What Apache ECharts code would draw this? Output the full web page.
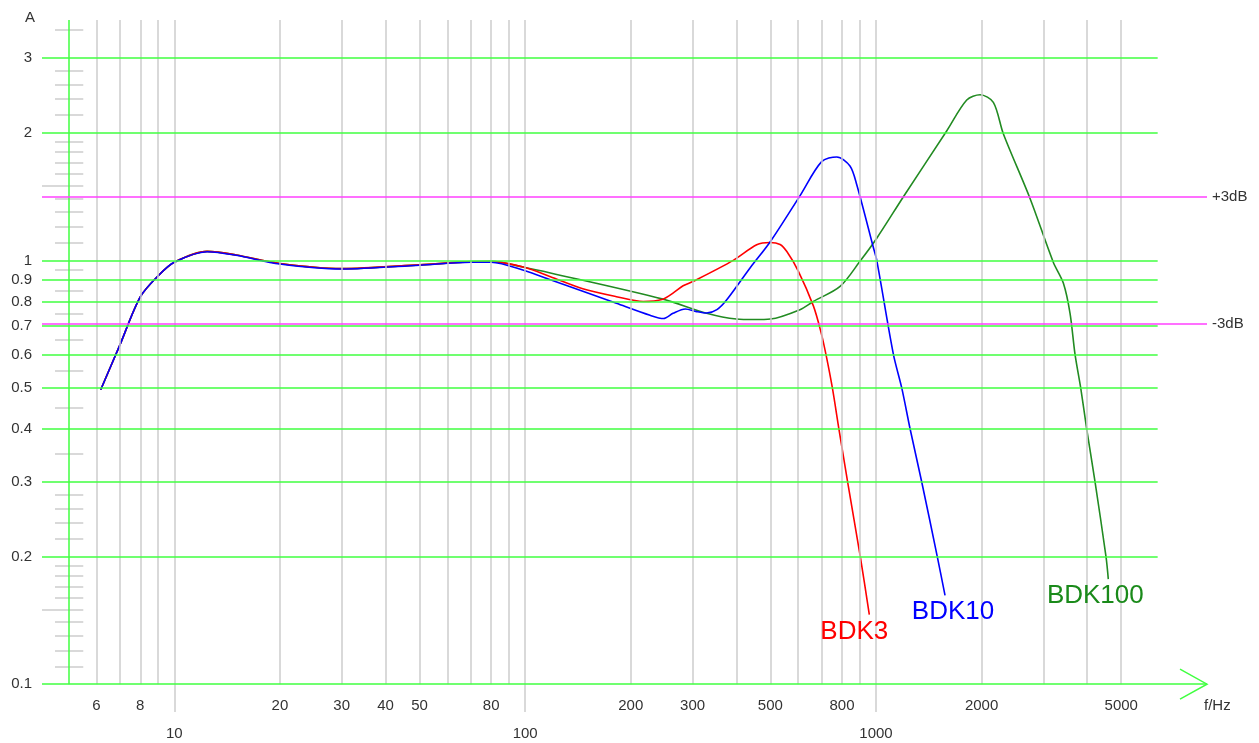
<!DOCTYPE html>
<html>
<head>
<meta charset="utf-8">
<title>BDK frequency response</title>
<script src="https://cdn.jsdelivr.net/npm/echarts@6/dist/echarts.min.js"></script>
<style>
  html, body { margin: 0; padding: 0; background: #fff; }
  #chart { width: 1259px; height: 743px; }
</style>
</head>
<body>
<div id="chart"></div>
<script>
  // axis extents, picked so the grid falls where the original draws it
  const X_MIN = 4.197;
  const X_MAX = 8778;
  const X_GRID_END = 6350;
  const Y_MIN = 0.08597;
  const Y_MAX = 3.691;
  const Y_AXIS_AT = 5;
  const TICK_FROM = 4.571;
  const TICK_TO = 5.503;

  // tick labels / grid positions
  const yGridValues = [0.1, 0.2, 0.3, 0.4, 0.5, 0.6, 0.7, 0.8, 0.9, 1, 2, 3];
  const yMinorTicks = [0.11, 0.12, 0.13, 0.14, 0.15, 0.16, 0.17, 0.18, 0.19, 0.22, 0.24, 0.26, 0.28,
    0.35, 0.45, 0.55, 0.65, 0.75, 0.85, 0.95, 1.1, 1.2, 1.3, 1.4, 1.5, 1.6, 1.7, 1.8, 1.9,
    2.2, 2.4, 2.6, 2.8, 3.5];
  const yLongTicks = [0.15, 1.5];
  const xGridValues = [6, 7, 8, 9, 10, 20, 30, 40, 50, 60, 70, 80, 90, 100, 200, 300, 400, 500,
    600, 700, 800, 900, 1000, 2000, 3000, 4000, 5000];
  const xLabelValues = [6, 8, 20, 30, 40, 50, 80, 200, 300, 500, 800, 2000, 5000];
  const xDecadeValues = [10, 100, 1000];
  const refLevels = [1.4125, 0.7079];
  const refLabels = ['+3dB', '-3dB'];

  // measured curves
  const bdk3Freq = [6.17, 7, 8, 9, 10, 12.4, 15, 20, 30, 50, 70, 80, 100, 118, 146, 182, 217, 247,
    265, 282, 302, 392, 457, 499, 533, 557, 600, 663, 696, 720, 751, 784, 830, 902, 957];
  const bdk3Amp = [0.495, 0.632, 0.82, 0.92, 0.99, 1.05, 1.03, 0.983, 0.956, 0.976, 0.992, 0.993,
    0.962, 0.915, 0.857, 0.821, 0.80, 0.81, 0.839, 0.871, 0.893, 1.0, 1.088, 1.102, 1.09, 1.049,
    0.945, 0.781, 0.68, 0.6, 0.5, 0.4, 0.3, 0.2, 0.146];

  const bdk10Freq = [6.17, 7, 8, 9, 10, 12.4, 15, 20, 30, 50, 70, 80, 100, 118, 146, 182, 227, 248,
    264, 286, 308, 329, 352, 375, 438, 499, 607, 700, 773, 843, 881, 982, 1005, 1121, 1184, 1251,
    1350, 1495, 1573];
  const bdk10Amp = [0.495, 0.632, 0.82, 0.92, 0.99, 1.048, 1.028, 0.98, 0.954, 0.974, 0.99, 0.99,
    0.945, 0.90, 0.846, 0.792, 0.742, 0.729, 0.75, 0.768, 0.757, 0.751, 0.765, 0.806, 0.961, 1.105,
    1.42, 1.71, 1.754, 1.67, 1.51, 1.075, 1.0, 0.6, 0.5, 0.4, 0.3, 0.2, 0.162];

  const bdk100Freq = [6.17, 7, 8, 9, 10, 12.4, 15, 20, 30, 50, 70, 80, 100, 118, 247, 329, 400, 450,
    500, 607, 663, 790, 900, 1005, 1197, 1590, 1814, 1980, 2160, 2306, 2748, 3201, 3419, 3573, 3692,
    3832, 3986, 4210, 4524, 4593];
  const bdk100Amp = [0.495, 0.632, 0.82, 0.92, 0.99, 1.05, 1.03, 0.983, 0.956, 0.976, 0.993, 0.995,
    0.962, 0.934, 0.81, 0.75, 0.727, 0.725, 0.727, 0.765, 0.80, 0.868, 0.995, 1.128, 1.413, 2.02,
    2.39, 2.46, 2.36, 1.99, 1.40, 0.99, 0.884, 0.75, 0.6, 0.5, 0.4, 0.3, 0.2, 0.177];

  const FONT = 'Liberation Sans, Arial, sans-serif';
  const TEXT = '#333';
  const GREEN = '#40ff40';
  const GRAY = '#cccccc';
  const MAGENTA = '#ff40ff';

  const zip = (xs, ys) => xs.map((x, i) => [x, ys[i]]);

  const seg = (x1, y1, x2, y2, label) => [
    { coord: [x1, y1], label: label || { show: false } },
    { coord: [x2, y2] },
  ];

  const tickLabel = (text, position, distance) => ({
    show: true,
    position: position,
    distance: distance,
    formatter: String(text),
    color: TEXT,
    fontSize: 15,
    fontFamily: FONT,
  });

  // gray: vertical frequency lines and the little ticks on the amplitude axis
  const grayLines = [];
  xGridValues.forEach((v) => {
    const decade = xDecadeValues.includes(v);
    const labelled = decade || xLabelValues.includes(v);
    grayLines.push(seg(v, decade ? Y_MIN : 0.1, v, Y_MAX, labelled ? tickLabel(v, 'start', 14) : null));
  });
  yMinorTicks.forEach((v) => {
    grayLines.push(seg(yLongTicks.includes(v) ? X_MIN : TICK_FROM, v, TICK_TO, v));
  });

  // green: amplitude grid, both axis lines
  const greenLines = [];
  yGridValues.forEach((v) => {
    greenLines.push(seg(X_MIN, v, v === 0.1 ? X_MAX : X_GRID_END, v, tickLabel(v, 'start', 10)));
  });
  greenLines.push(seg(Y_AXIS_AT, 0.1, Y_AXIS_AT, Y_MAX));

  const refLines = refLevels.map((v, i) => ({ yAxis: v, label: tickLabel(refLabels[i], 'end', 5) }));

  const markLineBase = {
    silent: true,
    symbol: ['none', 'none'],
    animation: false,
    emphasis: { disabled: true },
  };

  const curve = (name, freq, amp, color, labelColor, offset, distance) => ({
    name: name,
    type: 'line',
    data: zip(freq, amp),
    smooth: 0.3,
    symbol: 'none',
    z: 4,
    lineStyle: { color: color, width: 1.6 },
    itemStyle: { color: color },
    markPoint: {
      silent: true,
      symbol: 'circle',
      symbolSize: 0,
      animation: false,
      data: [{ coord: [freq[freq.length - 1], amp[amp.length - 1]] }],
      label: {
        show: true,
        position: 'bottom',
        distance: distance,
        offset: offset,
        formatter: name,
        color: labelColor,
        fontSize: 26,
        fontFamily: FONT,
      },
    },
  });

  const chart = echarts.init(document.getElementById('chart'), null, { renderer: 'canvas' });

  chart.setOption({
    animation: false,
    backgroundColor: '#fff',
    grid: { left: 42, right: 52, top: 20, bottom: 31 },
    xAxis: {
      type: 'log',
      min: X_MIN,
      max: X_MAX,
      axisLine: { show: false },
      axisTick: { show: false },
      axisLabel: { show: false },
      splitLine: { show: false },
    },
    yAxis: {
      type: 'log',
      min: Y_MIN,
      max: Y_MAX,
      axisLine: { show: false },
      axisTick: { show: false },
      axisLabel: { show: false },
      splitLine: { show: false },
    },
    series: [
      {
        name: 'frequency grid',
        type: 'line',
        data: [],
        z: 1,
        markLine: Object.assign({}, markLineBase, {
          lineStyle: { color: GRAY, width: 1.5, type: 'solid' },
          data: grayLines,
        }),
      },
      {
        name: 'amplitude grid',
        type: 'line',
        data: [],
        z: 2,
        markLine: Object.assign({}, markLineBase, {
          lineStyle: { color: GREEN, width: 1.5, type: 'solid' },
          data: greenLines,
        }),
      },
      {
        name: 'limits',
        type: 'line',
        data: [],
        z: 3,
        markLine: Object.assign({}, markLineBase, {
          lineStyle: { color: MAGENTA, width: 1.7, type: 'solid' },
          data: refLines,
        }),
      },
      // drawn green, red, blue so blue ends up on top where they overlap
      curve('BDK100', bdk100Freq, bdk100Amp, '#228b22', '#1a8a1a', [-13, 0], 4),
      curve('BDK3', bdk3Freq, bdk3Amp, '#ff0000', '#ff0000', [-15, 0], 4),
      curve('BDK10', bdk10Freq, bdk10Amp, '#0000ff', '#0000ff', [8, 0], 3),
    ],
  });

  // arrow head on the frequency axis and the two axis names
  const tip = chart.convertToPixel({ xAxisIndex: 0, yAxisIndex: 0 }, [X_MAX, 0.1]);
  chart.setOption({
    graphic: [
      {
        type: 'polyline',
        shape: { points: [[tip[0] - 27, tip[1] - 15], tip, [tip[0] - 27, tip[1] + 15]] },
        style: { stroke: GREEN, lineWidth: 1.5, fill: null },
        silent: true,
      },
      {
        type: 'text',
        left: 25,
        top: 10,
        style: { text: 'A', fill: TEXT, font: '15px ' + FONT },
        silent: true,
      },
      {
        type: 'text',
        left: 1204,
        top: 698,
        style: { text: 'f/Hz', fill: TEXT, font: '15px ' + FONT },
        silent: true,
      },
    ],
  });
</script>
</body>
</html>
